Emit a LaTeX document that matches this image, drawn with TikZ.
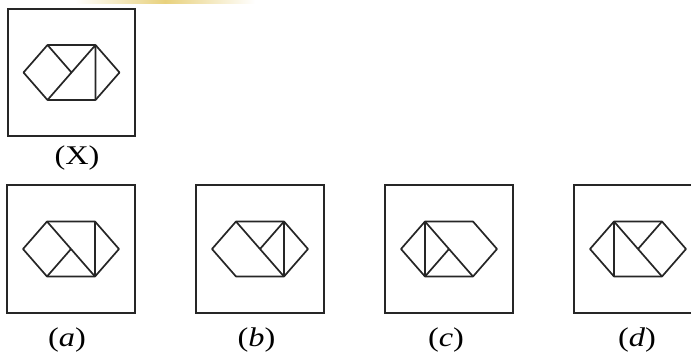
\documentclass[tikz,border=0pt]{standalone}
\usepackage{fontspec}
\setmainfont{Liberation Serif}
\usetikzlibrary{calc}

% corner points of one hexagon, relative to the panel centre
\newcommand{\hexpts}{%
  \coordinate (L)  at (-48,0);
  \coordinate (TL) at (-24,-27.5);
  \coordinate (TR) at (24,-27.5);
  \coordinate (R)  at (48,0);
  \coordinate (BR) at (24,27.5);
  \coordinate (BL) at (-24,27.5);
  \coordinate (O)  at (0,0);
}

\begin{document}
\begin{tikzpicture}[
    x=1pt, y=-1pt,
    frame/.style={draw=black!85, line width=2.3pt},
    edge/.style={draw=black!85, line width=1.7pt, line join=round},
    lbl/.style={font=\fontsize{27}{32}\selectfont, anchor=base, xscale=1.2, inner sep=0pt}
]
\useasboundingbox (0,0) rectangle (691,353);
\clip (0,0) rectangle (691,353);

% scan tint along the top edge
\shade[left color=white, right color=white, middle color=brown!60!yellow!60] (75,0) rectangle (255,3.5);

% Question figure
\begin{scope}[shift={(71.5,72.5)}]
  \hexpts
  \draw[frame] (-63.5,-63.5) rectangle (63.5,63.5);
  \draw[edge] (L) -- (TL) -- (TR) -- (R) -- (BR) -- (BL) -- cycle;
  \draw[edge] (BL) -- (TR) (TL) -- (O) (TR) -- (BR);
\end{scope}
\node[lbl] (labX) at (77,164) {(X)};

% Option a
\begin{scope}[shift={(71,249)}]
  \hexpts
  \draw[frame] (-64,-64) rectangle (64,64);
  \draw[edge] (L) -- (TL) -- (TR) -- (R) -- (BR) -- (BL) -- cycle;
  \draw[edge] (TL) -- (BR) (BL) -- (O) (TR) -- (BR);
\end{scope}
\node[lbl] (laba) at (67,346.5) {(\textit{a})};

% Option b
\begin{scope}[shift={(260,249)}]
  \hexpts
  \draw[frame] (-64,-64) rectangle (64,64);
  \draw[edge] (L) -- (TL) -- (TR) -- (R) -- (BR) -- (BL) -- cycle;
  \draw[edge] (TL) -- (BR) (TR) -- (O) (TR) -- (BR);
\end{scope}
\node[lbl] (labb) at (256.5,346.5) {(\textit{b})};

% Option c
\begin{scope}[shift={(449,249)}]
  \hexpts
  \draw[frame] (-64,-64) rectangle (64,64);
  \draw[edge] (L) -- (TL) -- (TR) -- (R) -- (BR) -- (BL) -- cycle;
  \draw[edge] (TL) -- (BL) (TL) -- (BR) (BL) -- (O);
\end{scope}
\node[lbl] (labc) at (446,346.5) {(\textit{c})};

% Option d
\begin{scope}[shift={(638,249)}]
  \hexpts
  \draw[frame] (-64,-64) rectangle (64,64);
  \draw[edge] (L) -- (TL) -- (TR) -- (R) -- (BR) -- (BL) -- cycle;
  \draw[edge] (TL) -- (BL) (TL) -- (BR) (TR) -- (O);
\end{scope}
\node[lbl] (labd) at (637,346.5) {(\textit{d})};

\end{tikzpicture}
\end{document}
